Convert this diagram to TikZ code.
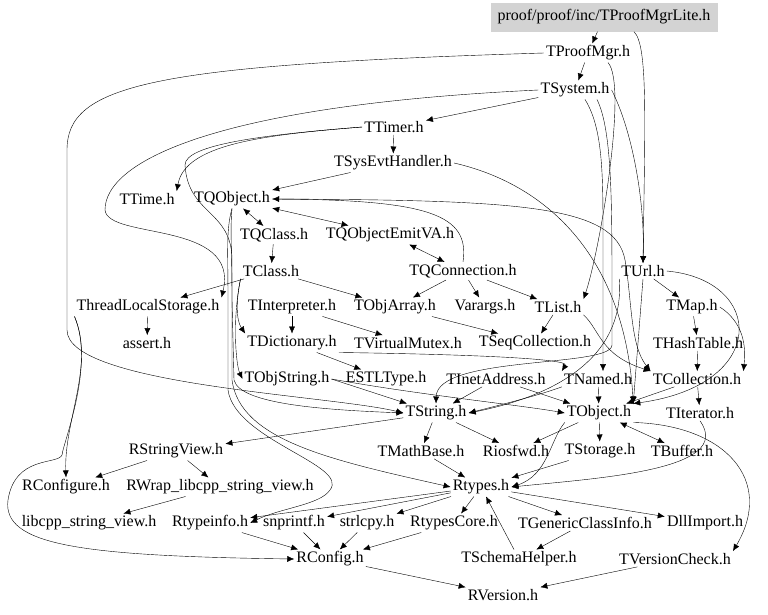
\documentclass[tikz,border=0pt]{standalone}
\usepackage{fontspec}
\setmainfont{Liberation Serif}
\usetikzlibrary{arrows.meta,positioning,calc}
\definecolor{rootgray}{RGB}{211,211,211}

\begin{document}
\begin{tikzpicture}[x=1pt, y=-1pt,
  file/.style={inner sep=2pt, font=\fontsize{16}{18}\selectfont},
  edge/.style={-{Latex[length=7pt,width=6pt]}, thin},
  biedge/.style={{Latex[length=7pt,width=6pt]}-{Latex[length=7pt,width=6pt]}, thin}]
\useasboundingbox (0,0) rectangle (768,614);

% 顶层文件
\node[file, fill=rootgray, minimum width=227pt, minimum height=29pt] (lite) at (604,17) {proof/proof/inc/TProofMgrLite.h};
\node[file] (mgr) at (588,53) {TProofMgr.h};
\node[file] (sys) at (575,90) {TSystem.h};
\node[file] (ttimer) at (394,127) {TTimer.h};
\node[file] (sysevt) at (393,163) {TSysEvtHandler.h};
\node[file] (ttime) at (147,199) {TTime.h};
\node[file] (tqobject) at (232,199) {TQObject.h};
\node[file] (tqclass) at (274,235) {TQClass.h};
\node[file] (emitva) at (390,235) {TQObjectEmitVA.h};
\node[file] (tclass) at (271,271) {TClass.h};
\node[file] (tqconn) at (463,271) {TQConnection.h};
\node[file] (url) at (643,271) {TUrl.h};

% 中间层
\node[file] (tls) at (148,307) {ThreadLocalStorage.h};
\node[file] (interp) at (292,307) {TInterpreter.h};
\node[file] (objarray) at (395,307) {TObjArray.h};
\node[file] (varargs) at (485,307) {Varargs.h};
\node[file] (tlist) at (558,307) {TList.h};
\node[file] (tmap) at (692,307) {TMap.h};
\node[file] (assert) at (147,343) {assert.h};
\node[file] (tdict) at (292,343) {TDictionary.h};
\node[file] (mutex) at (408,343) {TVirtualMutex.h};
\node[file] (seqcoll) at (535,343) {TSeqCollection.h};
\node[file] (hash) at (698,343) {THashTable.h};
\node[file] (objstring) at (287,379) {TObjString.h};
\node[file] (estl) at (386,379) {ESTLType.h};
\node[file] (inet) at (496,379) {TInetAddress.h};
\node[file] (tnamed) at (598,379) {TNamed.h};
\node[file] (tcoll) at (697,379) {TCollection.h};
\node[file] (tstring) at (436,413) {TString.h};
\node[file] (tobject) at (599,413) {TObject.h};
\node[file] (titer) at (700,413) {TIterator.h};

% 底层
\node[file] (strview) at (176,451) {RStringView.h};
\node[file] (mathbase) at (421,451) {TMathBase.h};
\node[file] (riosfwd) at (516,451) {Riosfwd.h};
\node[file] (storage) at (600,451) {TStorage.h};
\node[file] (buffer) at (682,451) {TBuffer.h};
\node[file] (rconfigure) at (66,487) {RConfigure.h};
\node[file] (rwrap) at (220,487) {RWrap\_libcpp\_string\_view.h};
\node[file] (rtypes) at (481,487) {Rtypes.h};
\node[file] (libcpp) at (89,523) {libcpp\_string\_view.h};
\node[file] (typeinfo) at (210,523) {Rtypeinfo.h};
\node[file] (snprintf) at (294,523) {snprintf.h};
\node[file] (strlcpy) at (367,523) {strlcpy.h};
\node[file] (core) at (454,523) {RtypesCore.h};
\node[file] (generic) at (585,523) {TGenericClassInfo.h};
\node[file] (dll) at (705,523) {DllImport.h};
\node[file] (rconfig) at (330,559) {RConfig.h};
\node[file] (schema) at (519,559) {TSchemaHelper.h};
\node[file] (vcheck) at (675,559) {TVersionCheck.h};
\node[file] (rversion) at (503,595) {RVersion.h};

% 连接: 顶层
\draw[edge] (lite) -- (mgr);
\draw[edge] ([xshift=30pt]lite.south) .. controls (648,45) and (645,120) .. (url.north);
\draw[edge] (mgr) -- (sys);
\draw[edge] (mgr.west) .. controls (150,65) and (67,85) .. (67,150) -- (67,330) .. controls (67,385) and (330,395) .. (tstring.west);
\draw[edge] ([xshift=20pt]mgr.south) .. controls (628,85) and (600,250) .. (tlist.north east);
\draw[edge] (sys) -- (ttimer);
\draw[edge] (sys.west) .. controls (220,105) and (105,160) .. (105,210) .. controls (108,240) and (240,220) .. (tls.north east);
\draw[edge] (sys.east) .. controls (632,130) and (645,200) .. (url.north);
\draw[edge] ([xshift=10pt]sys.south) .. controls (604,130) and (603,180) .. (603,250) -- ([xshift=5pt]tnamed.north);
\draw[edge] ([xshift=22pt]sys.south) .. controls (612,130) and (612,200) .. (612,300) -- (612,345) .. controls (612,368) and (437,355) .. (tstring.north);
\draw[edge] (ttimer) -- (sysevt);
\draw[edge] (ttimer.west) .. controls (260,135) and (185,145) .. (ttime.north east);
\draw[edge] (ttimer.west) .. controls (260,135) and (185,145) .. (185,165) .. controls (188,215) and (232,210) .. (232,260) -- (232,380) .. controls (240,440) and (330,460) .. (rtypes.west);
\draw[edge] (sysevt) -- (tqobject);
\draw[edge] (sysevt.east) .. controls (550,185) and (625,260) .. (tobject.north east);

% 连接: TQObject 一带
\draw[biedge] (tqobject) -- (tqclass);
\draw[biedge] (tqobject) -- (emitva);
\draw[biedge] (emitva) -- (tqconn);
\draw[edge] (tqconn.north) .. controls (470,215) and (430,200) .. (tqobject.east);
\draw[edge] (tqobject.east) .. controls (520,200) and (615,205) .. (625,260) .. controls (632,300) and (630,345) .. (tcoll.north west);
\draw[edge] (tqobject.south) .. controls (226,230) and (228,250) .. (228,300) -- (228,390) .. controls (235,440) and (350,465) .. (330,490) .. controls (320,505) and (280,508) .. (typeinfo.east);
\draw[edge] (tqobject.south) .. controls (230,230) and (232,250) .. (232,300) -- (234,380) .. controls (240,405) and (330,410) .. (tstring.west);
\draw[edge] (tqclass) -- (tclass);
\draw[edge] (tclass) -- (tls);
\draw[edge] (tclass) -- (objarray);
\draw[edge] (tqconn) -- (objarray);
\draw[edge] (tclass.south west) .. controls (236,300) and (236,320) .. (tdict.north west);
\draw[edge] (tclass.south west) .. controls (232,320) and (236,365) .. (objstring.west);
\draw[edge] (tqconn) -- (varargs);
\draw[edge] (tqconn) -- (tlist);

% 连接: 中间层
\draw[edge] (interp) -- (tdict);
\draw[edge] (interp) -- (mutex);
\draw[edge] (objarray) -- (seqcoll);
\draw[edge] (tlist) -- (seqcoll);
\draw[edge] (tdict) -- (estl);
\draw[edge] (tdict.south east) .. controls (450,354) and (570,358) .. (tnamed.north west);
\draw[edge] (tlist.south east) .. controls (600,330) and (600,355) .. (tcoll.north west);
\draw[edge] (objstring.east) -- (tstring);
\draw[edge] (objstring.east) .. controls (420,395) and (520,405) .. (tobject.west);
\draw[edge] (inet) -- (tstring);
\draw[edge] (inet) -- (tobject);
\draw[edge] (tnamed) -- (tobject);
\draw[edge] (tnamed.south west) .. controls (540,395) and (500,405) .. (tstring.east);
\draw[edge] (tcoll) -- (tobject);
\draw[edge] (tcoll) -- (titer);
\draw[edge] (hash) -- (tcoll);
\draw[edge] (url) -- (tmap);
\draw[edge] (url.south) -- (tobject.north east);
\draw[edge] (url.east) .. controls (765,280) and (770,385) .. (tobject.north east);
\draw[edge] (url.south west) .. controls (625,355) and (560,395) .. (tstring.east);
\draw[edge] (tmap) -- (hash);
\draw[edge] (tmap.east) .. controls (748,325) and (745,355) .. (tcoll.north east);

% 连接: 底层
\draw[edge] (tobject) -- (riosfwd);
\draw[edge] (tobject.south west) .. controls (550,440) and (548,475) .. (rtypes.east);
\draw[edge] (tobject) -- (storage);
\draw[biedge] (tobject) -- (buffer);
\draw[edge] (tobject.south east) .. controls (725,425) and (775,480) .. (vcheck.north east);
\draw[edge] (titer.south) .. controls (735,470) and (600,478) .. (rtypes.east);
\draw[edge] (storage) -- (rtypes);
\draw[edge] (tstring) -- (mathbase);
\draw[edge] (tstring) -- (riosfwd);
\draw[edge] (tstring) -- (strview);
\draw[edge] (mathbase) -- (rtypes);
\draw[edge] (strview) -- (rconfigure);
\draw[edge] (strview) -- (rwrap);
\draw[edge] (rwrap) -- (libcpp);
\draw[edge] (tls) -- (assert);
\draw[edge] (tls.south west) .. controls (95,365) and (64,420) .. (rconfigure.north);
\draw[edge] (tls.south west) .. controls (95,365) and (64,440) .. (62,455) .. controls (58,465) and (15,455) .. (8,500) .. controls (2,545) and (80,556) .. (rconfig.west);
\draw[edge] (rtypes) -- (typeinfo);
\draw[edge] (rtypes) -- (snprintf);
\draw[edge] (rtypes) -- (strlcpy);
\draw[edge] (rtypes) -- (core);
\draw[edge] (rtypes) -- (generic);
\draw[edge] (rtypes) -- (dll);
\draw[edge] (typeinfo) -- (rconfig);
\draw[edge] (snprintf) -- (rconfig);
\draw[edge] (strlcpy) -- (rconfig);
\draw[edge] (core) -- (rconfig);
\draw[edge] (rconfig) -- (rversion);
\draw[edge] (vcheck) -- (rversion);
\draw[edge] (generic) -- (schema);
\draw[edge] (schema) -- (rtypes);
\end{tikzpicture}
\end{document}
